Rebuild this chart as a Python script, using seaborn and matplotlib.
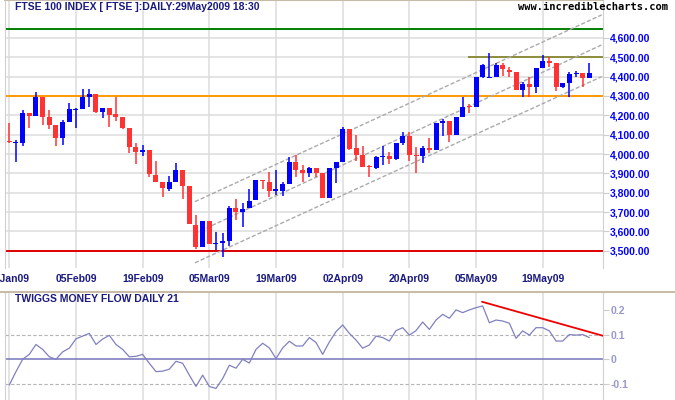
import matplotlib
matplotlib.use("Agg")
import matplotlib.pyplot as plt
import matplotlib.lines as mlines
import numpy as np
import pandas as pd
import seaborn as sns

# daily FTSE 100 candles, 22 Jan 2009 .. 29 May 2009
opens = [4064, 4056, 4059, 4211, 4198, 4296, 4193, 4150, 4084, 4164,
         4228, 4233, 4296, 4310, 4219, 4240, 4205, 4193, 4136, 4038,
         4012, 4021, 3892, 3857, 3819, 3857, 3918, 3835, 3633, 3521,
         3654, 3536, 3539, 3552, 3720, 3702, 3720, 3763, 3866, 3857,
         3811, 3811, 3845, 3960, 3917, 3904, 3926, 3904, 3771, 3926,
         3960, 4129, 4033, 3995, 3935, 3926, 3986, 3990, 3973, 4059,
         4093, 3995, 3991, 4033, 4021, 4162, 4171, 4098, 4193, 4248,
         4245, 4400, 4391, 4400, 4460, 4434, 4422, 4331, 4362, 4348,
         4446, 4481, 4472, 4348, 4369, 4412, 4417, 4391]
highs = [4159, 4073, 4228, 4211, 4321, 4296, 4228, 4150, 4176, 4265,
         4236, 4335, 4336, 4310, 4240, 4240, 4296, 4193, 4136, 4059,
         4047, 4021, 3964, 3857, 3887, 3955, 3918, 3835, 3685, 3654,
         3654, 3596, 3592, 3733, 3766, 3745, 3819, 3866, 3866, 3906,
         3918, 3857, 3986, 3995, 3943, 3935, 3926, 3904, 3929, 3960,
         4141, 4129, 4098, 4042, 3943, 3990, 4043, 4012, 4059, 4116,
         4116, 4038, 4042, 4081, 4162, 4181, 4171, 4193, 4293, 4257,
         4400, 4465, 4524, 4469, 4469, 4451, 4422, 4374, 4400, 4443,
         4512, 4500, 4472, 4369, 4426, 4431, 4417, 4469]
lows = [4055, 3960, 4043, 4136, 4198, 4150, 4129, 4043, 4047, 4164,
        4136, 4233, 4245, 4211, 4188, 4141, 4171, 4129, 4004, 3947,
        3991, 3883, 3857, 3780, 3811, 3857, 3769, 3638, 3508, 3521,
        3535, 3504, 3470, 3525, 3659, 3625, 3720, 3763, 3818, 3780,
        3788, 3783, 3845, 3880, 3857, 3880, 3883, 3771, 3771, 3849,
        3960, 4021, 3966, 3932, 3883, 3922, 3943, 3947, 3969, 4047,
        3964, 3904, 3955, 4004, 4021, 4093, 4064, 4098, 4193, 4214,
        4245, 4391, 4391, 4400, 4403, 4400, 4331, 4296, 4296, 4314,
        4446, 4448, 4326, 4341, 4296, 4400, 4345, 4391]
closes = [4060, 4060, 4211, 4198, 4296, 4193, 4150, 4084, 4167, 4233,
          4232, 4296, 4310, 4219, 4240, 4202, 4193, 4133, 4038, 4012,
          4021, 3895, 3857, 3823, 3857, 3918, 3835, 3638, 3521, 3654,
          3535, 3540, 3552, 3720, 3702, 3714, 3757, 3866, 3862, 3811,
          3819, 3845, 3960, 3917, 3904, 3926, 3904, 3771, 3929, 3960,
          4129, 4025, 3995, 3935, 3932, 3986, 3990, 3973, 4059, 4093,
          3995, 3991, 4030, 4021, 4159, 4172, 4098, 4193, 4245, 4245,
          4400, 4460, 4397, 4460, 4438, 4426, 4331, 4362, 4348, 4443,
          4482, 4472, 4348, 4369, 4414, 4417, 4391, 4417]

# Twiggs Money Flow (21)
tmf = [-0.104, -0.05, 0.0, 0.02, 0.06, 0.04, 0.01, 0.0, 0.03, 0.045,
       0.083, 0.094, 0.105, 0.06, 0.082, 0.097, 0.06, 0.04, 0.01, 0.012,
       0.02, -0.016, -0.05, -0.048, -0.04, -0.008, -0.016, -0.064, -0.11, -0.064,
       -0.11, -0.118, -0.078, -0.024, -0.036, 0.0, -0.015, 0.04, 0.065, 0.046,
       0.003, 0.046, 0.073, 0.054, 0.054, 0.088, 0.068, 0.02, 0.07, 0.112,
       0.139, 0.105, 0.078, 0.045, 0.058, 0.094, 0.088, 0.074, 0.116, 0.128,
       0.098, 0.116, 0.151, 0.121, 0.159, 0.182, 0.166, 0.2, 0.189, 0.2,
       0.209, 0.216, 0.148, 0.159, 0.155, 0.146, 0.085, 0.115, 0.098, 0.128,
       0.128, 0.115, 0.074, 0.074, 0.1, 0.098, 0.1, 0.088]

date_ticks = [0, 10, 20, 30, 40, 50, 60, 70, 80]
date_labels = ["22Jan09", "05Feb09", "19Feb09", "05Mar09", "19Mar09",
               "02Apr09", "20Apr09", "05May09", "19May09"]
price_ticks = [3500, 3600, 3700, 3800, 3900, 4000, 4100, 4200, 4300, 4400, 4500, 4600]
tmf_ticks = [-0.1, 0, 0.1, 0.2]
tmf_labels = ["-0.1", "0", "0.1", "0.2"]

# drawn lines: (day, price) endpoints
channel_days = [27.85, 88.85]
channel_upper = [3754, 4719]
channel_mid = [3590, 4564]
channel_lower = [3438, 4400]
trend_days = [70.9, 89.2]
trend_tmf = [0.233, 0.094]

df = pd.DataFrame({"day": np.arange(len(opens)), "open": opens, "high": highs,
                   "low": lows, "close": closes, "tmf": tmf})

sns.set_style("white")
plt.rcParams["font.family"] = ["Liberation Sans", "DejaVu Sans"]

W, H = 675.0, 400.0
fig = plt.figure(figsize=(6.75, 4.0), dpi=100)
ax1 = fig.add_axes([5 / W, 1 - 268 / H, 597.7 / W, 268 / H])
ax2 = fig.add_axes([5 / W, 0, 597.7 / W, 108 / H])

navy = "#1a1a80"
grid = "#dcdcdc"
up, down = "#0000ff", "#ff3333"

for ax in (ax1, ax2):
    ax.set_xlim(-0.645, 89.0)
    ax.set_xticks(date_ticks)
    ax.grid(axis="x", color=grid, lw=1.1)
    ax.set_axisbelow(True)
    for s in ("left", "right"):
        ax.spines[s].set_color("#d0d0d0")
    ax.spines["bottom"].set_visible(False)

# upper panel
ax1.set_ylim(3411, 4796)
ax1.set_yticks(price_ticks)
ax1.grid(axis="y", color=grid, lw=1.1)
ax1.spines["top"].set_color("#c8bca8")
ax1.spines["top"].set_linewidth(1.5)
ax1.yaxis.tick_right()
ax1.tick_params(axis="y", length=4, color="#cccccc", pad=1, labelsize=7.5, labelcolor=up)
ax1.set_yticklabels(["{:,.2f}".format(v) for v in price_ticks], fontweight="bold")
ax1.set_xticklabels(date_labels, fontweight="bold")
ax1.tick_params(axis="x", length=0, pad=4, labelsize=7.5, labelcolor=navy)

ax1.axhline(4645, color="#008000", lw=1.4, zorder=1)
ax1.hlines(4500, 68.8, 89.5, color="#8c8c3c", lw=1.4, zorder=1)
ax1.axhline(4300, color="#ff9900", lw=1.4, zorder=1)
ax1.axhline(3500, color="#dd0000", lw=1.4, zorder=1)
for ys in (channel_upper, channel_mid, channel_lower):
    ax1.plot(channel_days, ys, color="#aaaaaa", lw=1.0, ls=(0, (3, 1.5)), zorder=1)

colors = [up if c >= o else down for o, c in zip(df["open"], df["close"])]
body_lo = np.minimum(df["open"], df["close"])
body_h = np.maximum(np.abs(df["close"] - df["open"]), 5)
ax1.vlines(df["day"], df["low"], df["high"], colors=colors, lw=1.1, zorder=3)
ax1.bar(df["day"], body_h, bottom=body_lo, width=0.75, color=colors, lw=0, zorder=4)

# lower panel
sns.lineplot(data=df, x="day", y="tmf", ax=ax2, color="#8080c0", lw=0.9, zorder=3)
ax2.set_ylim(-0.1648, 0.2725)
ax2.axhline(0, color="#8080c0", lw=1.2, zorder=2)
for v in (0.1, -0.1):
    ax2.axhline(v, color="#b4b4b4", lw=0.8, ls=(0, (3, 2)), zorder=1)
ax2.plot(trend_days, trend_tmf, color="#ee0000", lw=1.3, zorder=4)
ax2.spines["top"].set_visible(False)
ax2.yaxis.tick_right()
ax2.set_yticks(tmf_ticks)
ax2.set_yticklabels(tmf_labels, fontweight="bold")
ax2.tick_params(axis="y", length=4, color="#cccccc", pad=2, labelsize=7.5, labelcolor="#9999cc")
ax2.tick_params(axis="x", length=0, labelbottom=False)
ax2.set_xlabel("")
ax2.set_ylabel("")
ax2.set_xlim(-0.645, 89.0)

fig.add_artist(mlines.Line2D([0, 1], [1 - 291.5 / H] * 2, color="#c8bca8", lw=1.5,
                             transform=fig.transFigure))

fig.text(15 / W, 1 - 7.5 / H, "FTSE 100 INDEX [ FTSE ]:DAILY:29May2009 18:30",
         color=navy, fontsize=7.5, fontweight="bold", va="center", ha="left")
fig.text(15 / W, 1 - 299.5 / H, "TWIGGS MONEY FLOW DAILY 21",
         color=navy, fontsize=7.5, fontweight="bold", va="center", ha="left")
fig.text(518 / W, 1 - 7.5 / H, "www.incrediblecharts.com", color="black",
         fontsize=7.5, fontweight="bold", family="DejaVu Sans Mono", va="center", ha="left")

fig.savefig("out.png", dpi=100)
